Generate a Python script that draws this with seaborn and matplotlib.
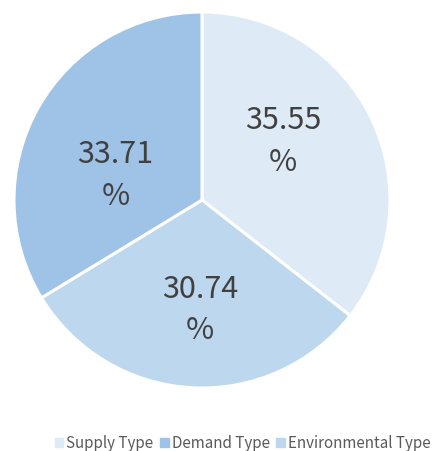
import numpy as np
import matplotlib
matplotlib.use("Agg")
import matplotlib.pyplot as plt
import matplotlib.patches as mpatches
import seaborn as sns

# Share of each policy type (%), in clockwise drawing order from 12 o'clock
categories = ["Supply Type", "Environmental Type", "Demand Type"]
shares = [35.55, 30.74, 33.71]
legend_order = ["Supply Type", "Demand Type", "Environmental Type"]

sns.set_theme(style="white")
plt.rcParams["font.family"] = ["Noto Sans CJK SC", "DejaVu Sans"]

palette = {
    "Supply Type": "#deeaf6",
    "Demand Type": "#9ec3e6",
    "Environmental Type": "#bdd7ee",
}
colors = sns.color_palette([palette[c] for c in categories])

# Where each value label sits inside its wedge (pie radius = 1)
label_xy = {
    "Supply Type": (0.43, 0.31),
    "Environmental Type": (-0.01, -0.585),
    "Demand Type": (-0.46, 0.13),
}

fig = plt.figure(figsize=(4.35, 4.51), dpi=100)
ax = fig.add_axes([14 / 435, 63 / 451, 376 / 435, 376 / 451])

wedges, _ = ax.pie(
    shares,
    colors=colors,
    startangle=90,
    counterclock=False,
    radius=1.0,
    wedgeprops=dict(edgecolor="white", linewidth=2.2),
)
ax.set_xlim(-1, 1)
ax.set_ylim(-1, 1)
ax.set_aspect("equal")
ax.axis("off")

for cat, val in zip(categories, shares):
    x, y = label_xy[cat]
    ax.text(
        x, y,
        f"{val:.2f}\n%",
        ha="center", va="center",
        fontsize=22, color="#404040", linespacing=1.45,
    )

handles = [mpatches.Patch(color=palette[c], label=c) for c in legend_order]
fig.legend(
    handles=handles,
    loc="center left",
    bbox_to_anchor=(55 / 435, 1 - 443 / 451),
    ncol=3,
    frameon=False,
    fontsize=10.9,
    handlelength=0.55,
    handleheight=0.55,
    handletextpad=0.2,
    columnspacing=0.45,
    borderaxespad=0,
    borderpad=0,
    labelcolor="#595959",
)

fig.savefig("out.png", dpi=100)
